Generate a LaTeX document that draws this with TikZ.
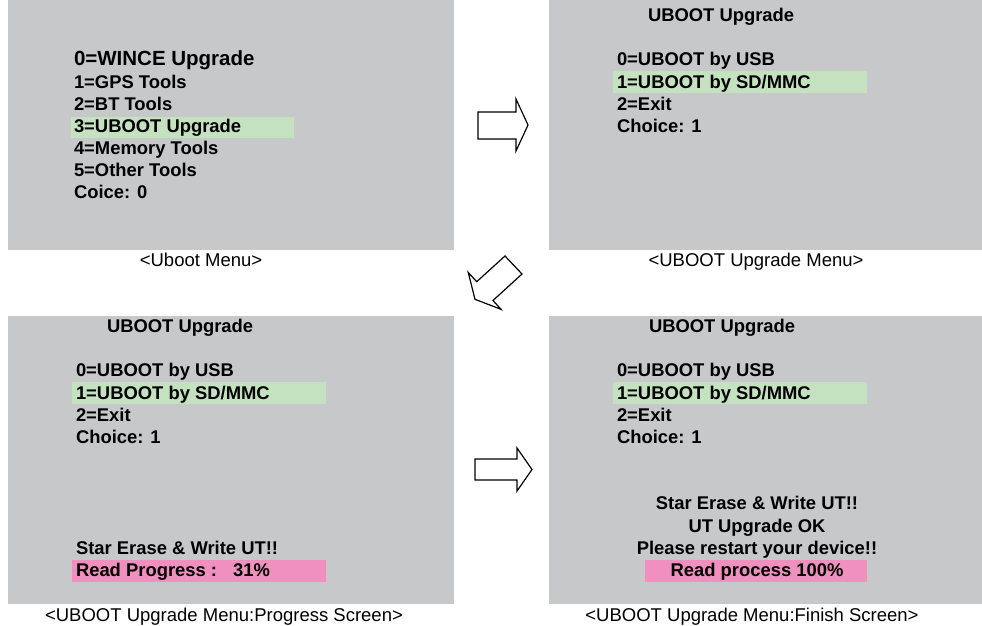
\documentclass[tikz,border=0pt]{standalone}
\usepackage{fontspec}
\setmainfont{Liberation Sans}
\usetikzlibrary{positioning}
\definecolor{screengray}{RGB}{199,200,202}
\definecolor{selgreen}{RGB}{196,225,192}
\definecolor{barpink}{RGB}{239,144,191}

\begin{document}
\begin{tikzpicture}[x=1pt,y=-1pt,
 every node/.style={inner sep=0pt,outer sep=0pt},
 screen/.style={fill=screengray,anchor=north west},
 selbar/.style={fill=selgreen,anchor=north west,minimum height=22pt},
 progbar/.style={fill=barpink,anchor=north west,minimum height=22pt},
 item/.style={anchor=base west,font=\fontsize{18.4}{22}\selectfont\bfseries},
 bigitem/.style={item,font=\fontsize{20.5}{24}\selectfont\bfseries},
 msg/.style={anchor=base,font=\fontsize{18.4}{22}\selectfont\bfseries},
 caption/.style={anchor=base,font=\fontsize{18.5}{22}\selectfont},
 blockarrow/.style={draw=black,fill=white,line width=1.2pt,line join=miter}]
\useasboundingbox (0,0) rectangle (982,626);

% screens
\node[screen,minimum width=446pt,minimum height=250pt] (menu) at (8,0) {};
\node[screen,minimum width=433pt,minimum height=250pt] (upgmenu) at (549,0) {};
\node[screen,minimum width=446pt,minimum height=288pt] (progscr) at (8,316) {};
\node[screen,minimum width=433pt,minimum height=288pt] (finscr) at (549,316) {};

% highlight bars
\node[selbar,minimum width=223pt,minimum height=21.5pt] (sel0) at (71,116.5) {};
\node[selbar,minimum width=254pt] (sel1) at (613,71) {};
\node[selbar,minimum width=254pt] (sel2) at (72,382) {};
\node[selbar,minimum width=254pt] (sel3) at (613,382) {};
\node[progbar,minimum width=254pt] (bar2) at (72,560) {};
\node[progbar,minimum width=222pt] (bar3) at (645,560) {};

% uboot menu
\node[bigitem] (m0) at (74,65.5) {0=WINCE Upgrade};
\node[item] (m1) at (74,88.7) {1=GPS Tools};
\node[item] (m2) at (74,110.7) {2=BT Tools};
\node[item] (m3) at (74,132.7) {3=UBOOT Upgrade};
\node[item] (m4) at (74,154.7) {4=Memory Tools};
\node[item] (m5) at (74,176.7) {5=Other Tools};
\node[item] (m6) at (74,198.7) {Coice: 0};
\node[caption] (cap0) at (201,266) {<Uboot Menu>};

% upgrade menu
\node[item] (u0) at (648,21.5) {UBOOT Upgrade};
\node[item] (u1) at (617,65.5) {0=UBOOT by USB};
\node[item] (u2) at (617,88.5) {1=UBOOT by SD/MMC};
\node[item] (u3) at (617,110.5) {2=Exit};
\node[item] (u4) at (617,132.5) {Choice: 1};
\node[caption] (cap1) at (756,266) {<UBOOT Upgrade Menu>};

% progress screen
\node[item] (p0) at (107,332.5) {UBOOT Upgrade};
\node[item] (p1) at (76,376.5) {0=UBOOT by USB};
\node[item] (p2) at (76,399.5) {1=UBOOT by SD/MMC};
\node[item] (p3) at (76,421.5) {2=Exit};
\node[item] (p4) at (76,443.5) {Choice: 1};
\node[item] (p5) at (76,554.5) {Star Erase \& Write UT!!};
\node[item] (p6) at (76,576.5) {Read Progress :\hspace{16pt}31\%};
\node[caption] (cap2) at (224,621.5) {<UBOOT Upgrade Menu:Progress Screen>};

% finish screen
\node[item] (f0) at (649,332.5) {UBOOT Upgrade};
\node[item] (f1) at (617,376.5) {0=UBOOT by USB};
\node[item] (f2) at (617,399.5) {1=UBOOT by SD/MMC};
\node[item] (f3) at (617,421.5) {2=Exit};
\node[item] (f4) at (617,443.5) {Choice: 1};
\node[msg] (f5) at (757,509.5) {Star Erase \& Write UT!!};
\node[msg] (f6) at (757,532.5) {UT Upgrade OK};
\node[msg] (f7) at (757,554.5) {Please restart your device!!};
\node[msg] (f8) at (757,576.5) {Read process 100\%};
\node[caption] (cap3) at (752,621.5) {<UBOOT Upgrade Menu:Finish Screen>};

% arrows between screens
\draw[blockarrow] (478,112) -- (516,112) -- (516,99) -- (528,125) -- (516,151) -- (516,139) -- (478,139) -- cycle;
\draw[blockarrow] (505,256) -- (522,274) -- (493,300.5) -- (501,309.3) -- (475,299.3) -- (468.3,272.5) -- (476.7,281.7) -- cycle;
\draw[blockarrow] (475,459) -- (517,459) -- (517,448) -- (532,469.5) -- (517,491) -- (517,480) -- (475,480) -- cycle;
\end{tikzpicture}
\end{document}
